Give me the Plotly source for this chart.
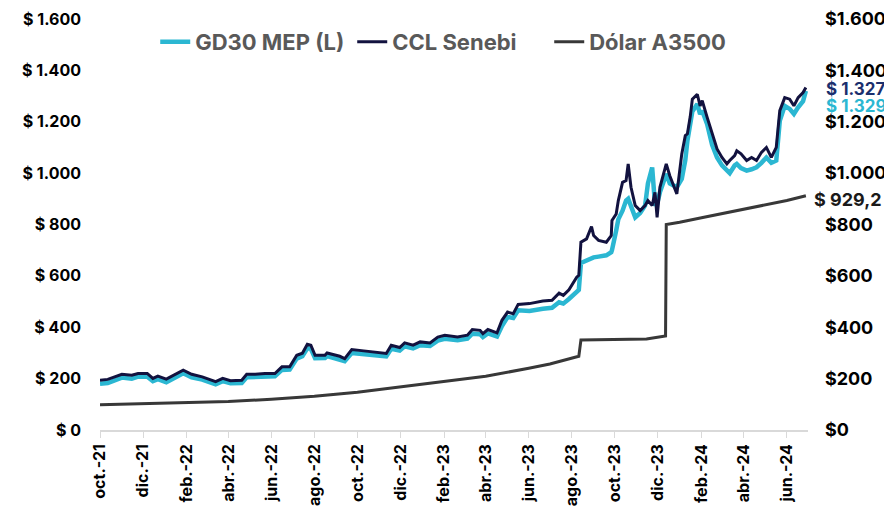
"""Dólar MEP, CCL y oficial A3500 (oct-21 a jun-24)."""
import plotly.graph_objects as go

# --------------------------------------------------------------------------- #
# Data
# --------------------------------------------------------------------------- #
dates = [
    "2021-10-01", "2021-10-12", "2021-11-01", "2021-11-15", "2021-11-24", "2021-12-07",
    "2021-12-15", "2021-12-22", "2022-01-03", "2022-01-13", "2022-01-27", "2022-02-08",
    "2022-02-23", "2022-03-14", "2022-03-24", "2022-04-04", "2022-04-20", "2022-04-27",
    "2022-05-09", "2022-05-23", "2022-06-06", "2022-06-16", "2022-06-27", "2022-07-07",
    "2022-07-15", "2022-07-22", "2022-07-27", "2022-08-02", "2022-08-16", "2022-08-19",
    "2022-08-30", "2022-09-06", "2022-09-13", "2022-09-23", "2022-10-10", "2022-10-28",
    "2022-11-11", "2022-11-18", "2022-11-30", "2022-12-07", "2022-12-19", "2022-12-29",
    "2023-01-12", "2023-01-23", "2023-02-02", "2023-02-20", "2023-03-06", "2023-03-13",
    "2023-03-24", "2023-03-28", "2023-04-04", "2023-04-17", "2023-04-24", "2023-05-02",
    "2023-05-10", "2023-05-17", "2023-06-02", "2023-06-21", "2023-07-04", "2023-07-14",
    "2023-07-20", "2023-07-28", "2023-08-01", "2023-08-08", "2023-08-11", "2023-08-14",
    "2023-08-22", "2023-08-29", "2023-09-01", "2023-09-08", "2023-09-19", "2023-09-26",
    "2023-09-27", "2023-10-03", "2023-10-06", "2023-10-12", "2023-10-17", "2023-10-20",
    "2023-10-24", "2023-10-30", "2023-11-06", "2023-11-13", "2023-11-17", "2023-11-23",
    "2023-11-27", "2023-11-30", "2023-12-04", "2023-12-13", "2023-12-18", "2023-12-28",
    "2024-01-04", "2024-01-09", "2024-01-12", "2024-01-16", "2024-01-19", "2024-01-26",
    "2024-01-30", "2024-02-02", "2024-02-09", "2024-02-16", "2024-02-23", "2024-03-01",
    "2024-03-08", "2024-03-12", "2024-03-19", "2024-03-22", "2024-03-28", "2024-04-05",
    "2024-04-12", "2024-04-19", "2024-04-26", "2024-05-03", "2024-05-10", "2024-05-17",
    "2024-05-22", "2024-05-29", "2024-06-05", "2024-06-11", "2024-06-17", "2024-06-24",
    "2024-06-28",
]

ccl_senebi = [
    194, 197, 217, 213, 220, 220, 201, 210, 198, 213, 233, 217,
    207, 188, 201, 192, 194, 217, 217, 220, 220, 246, 246, 291,
    299, 334, 330, 291, 291, 300, 291, 287, 278, 313, 308, 304,
    298, 330, 321, 339, 330, 343, 339, 362, 369, 362, 369, 391,
    388, 375, 391, 378, 427, 459, 453, 489, 492, 502, 505, 533,
    524, 546, 563, 595, 602, 731, 744, 792, 757, 738, 731, 757,
    816, 841, 893, 964, 971, 1036, 945, 874, 854, 874, 893, 874,
    925, 828, 945, 1036, 990, 919, 1075, 1146, 1153, 1220, 1288, 1307,
    1262, 1282, 1217, 1152, 1094, 1061, 1036, 1049, 1068, 1087, 1075, 1049,
    1061, 1049, 1081, 1100, 1061, 1100, 1243, 1294, 1288, 1262, 1294, 1314,
    1333,
]

gd30_mep = [
    180, 183, 204, 200, 208, 207, 190, 198, 186, 201, 221, 205,
    196, 178, 190, 182, 183, 205, 206, 209, 209, 234, 235, 278,
    287, 318, 316, 279, 280, 288, 280, 276, 268, 300, 296, 293,
    287, 316, 309, 326, 318, 330, 327, 348, 355, 349, 356, 375,
    373, 362, 376, 364, 405, 440, 436, 466, 463, 472, 476, 497,
    492, 510, 520, 540, 545, 650, 660, 667, 672, 675, 680, 692,
    700, 777, 820, 854, 893, 900, 870, 828, 845, 874, 960, 1022,
    880, 880, 925, 997, 960, 945, 977, 1050, 1126, 1180, 1240, 1269,
    1230, 1243, 1190, 1110, 1061, 1030, 1010, 1000, 1030, 1036, 1020, 1010,
    1015, 1023, 1040, 1061, 1040, 1049, 1204, 1262, 1250, 1230, 1256, 1280,
    1320,
]

a3500_dates = [
    "2021-10-01", "2021-12-01", "2022-02-01", "2022-04-01", "2022-06-01", "2022-08-01",
    "2022-10-01", "2022-12-01", "2023-02-01", "2023-04-01", "2023-06-01", "2023-07-01",
    "2023-08-11", "2023-08-14", "2023-11-15", "2023-12-12", "2023-12-13", "2024-01-01",
    "2024-02-01", "2024-03-01", "2024-04-01", "2024-05-01", "2024-06-01", "2024-06-28",
]
a3500 = [
    98.7, 102.7, 105.8, 111.0, 119.5, 131.0,
    147.3, 167.2, 187.0, 209.0, 240.3, 256.7,
    287.3, 350.0, 353.9, 366.5, 800.0, 808.5,
    826.0, 842.5, 858.0, 876.0, 893.5, 911.8,
]

tick_dates = [
    "2021-10-01", "2021-12-01", "2022-02-01", "2022-04-01", "2022-06-01", "2022-08-01",
    "2022-10-01", "2022-12-01", "2023-02-01", "2023-04-01", "2023-06-01", "2023-08-01",
    "2023-10-01", "2023-12-01", "2024-02-01", "2024-04-01", "2024-06-01",
]
tick_text = [
    "oct.-21", "dic.-21", "feb.-22", "abr.-22", "jun.-22", "ago.-22",
    "oct.-22", "dic.-22", "feb.-23", "abr.-23", "jun.-23", "ago.-23",
    "oct.-23", "dic.-23", "feb.-24", "abr.-24", "jun.-24",
]

y_ticks = [0, 200, 400, 600, 800, 1000, 1200, 1400, 1600]
y_left_text = ["$ 0", "$ 200", "$ 400", "$ 600", "$ 800", "$ 1.000", "$ 1.200", "$ 1.400", "$ 1.600"]
y_right_text = ["$0", "$200", "$400", "$600", "$800", "$1.000", "$1.200", "$1.400", "$1.600"]

end_labels = ["$ 1.327", "$ 1.329", "$ 929,2"]

# --------------------------------------------------------------------------- #
# Style
# --------------------------------------------------------------------------- #
CYAN = "#2BB7D2"
NAVY = "#12123F"
NAVY_LABEL = "#1B2F6E"
GREY = "#383838"
LEGEND_TEXT = "#595959"
FONT = "Inter, Liberation Sans, Arial, sans-serif"

fig = go.Figure()
fig.add_trace(go.Scatter(
    x=dates, y=gd30_mep, name="GD30 MEP (L)", mode="lines",
    line=dict(color=CYAN, width=4.5),
))
fig.add_trace(go.Scatter(
    x=dates, y=ccl_senebi, name="CCL Senebi", mode="lines", yaxis="y2",
    line=dict(color=NAVY, width=3),
))
fig.add_trace(go.Scatter(
    x=a3500_dates, y=a3500, name="Dólar A3500", mode="lines", yaxis="y2",
    line=dict(color=GREY, width=3),
))

# the page body adds an 8px offset, so the figure is 8px smaller than the window
fig.update_layout(
    width=884, height=502,
    paper_bgcolor="white", plot_bgcolor="white",
    margin=dict(l=92, r=84, t=11, b=80),
    font=dict(family=FONT),
    showlegend=True,
    legend=dict(
        orientation="h", x=0.078, xanchor="left", y=0.944, yanchor="middle",
        font=dict(family=FONT, size=22, color=LEGEND_TEXT, weight="bold"),
        bgcolor="rgba(0,0,0,0)", itemwidth=30, tracegroupgap=0,
        entrywidth=152, entrywidthmode="pixels",
    ),
    xaxis=dict(
        type="date", range=["2021-10-01", "2024-07-01"], automargin=False,
        tickvals=tick_dates, ticktext=tick_text, tickangle=-90,
        tickfont=dict(family=FONT, size=16, color="#000000", weight="bold"),
        showgrid=False, zeroline=False,
        showline=True, linecolor="#D9D9D9", linewidth=1.5,
        ticks="outside", ticklen=6, tickcolor="#D9D9D9",
    ),
    yaxis=dict(
        range=[0, 1600], tickvals=y_ticks, ticktext=y_left_text, automargin=False,
        tickfont=dict(family=FONT, size=16, color="#000000", weight="bold"),
        showgrid=False, zeroline=False, showline=False,
        ticklabelstandoff=18,
    ),
    yaxis2=dict(
        range=[0, 1600], tickvals=y_ticks, ticktext=y_right_text, automargin=False,
        overlaying="y", side="right",
        tickfont=dict(family=FONT, size=18, color="#000000", weight="bold"),
        showgrid=False, zeroline=False, showline=False,
        ticklabelstandoff=16,
    ),
)

# End-of-series value labels
fig.add_annotation(x=dates[-1], y=ccl_senebi[-1], yref="y2", text=end_labels[0],
                   showarrow=False, xanchor="left", yanchor="middle", xshift=18, yshift=-1,
                   font=dict(family=FONT, size=17, color=NAVY_LABEL, weight="bold"))
fig.add_annotation(x=dates[-1], y=gd30_mep[-1], text=end_labels[1],
                   showarrow=False, xanchor="left", yanchor="middle", xshift=18, yshift=-15,
                   font=dict(family=FONT, size=17, color=CYAN, weight="bold"))
fig.add_annotation(x=a3500_dates[-1], y=a3500[-1], yref="y2", text=end_labels[2],
                   showarrow=False, xanchor="left", yanchor="middle", xshift=6, yshift=-4,
                   font=dict(family=FONT, size=18, color="#1A1A1A", weight="bold"))

fig.write_html("out.html")
